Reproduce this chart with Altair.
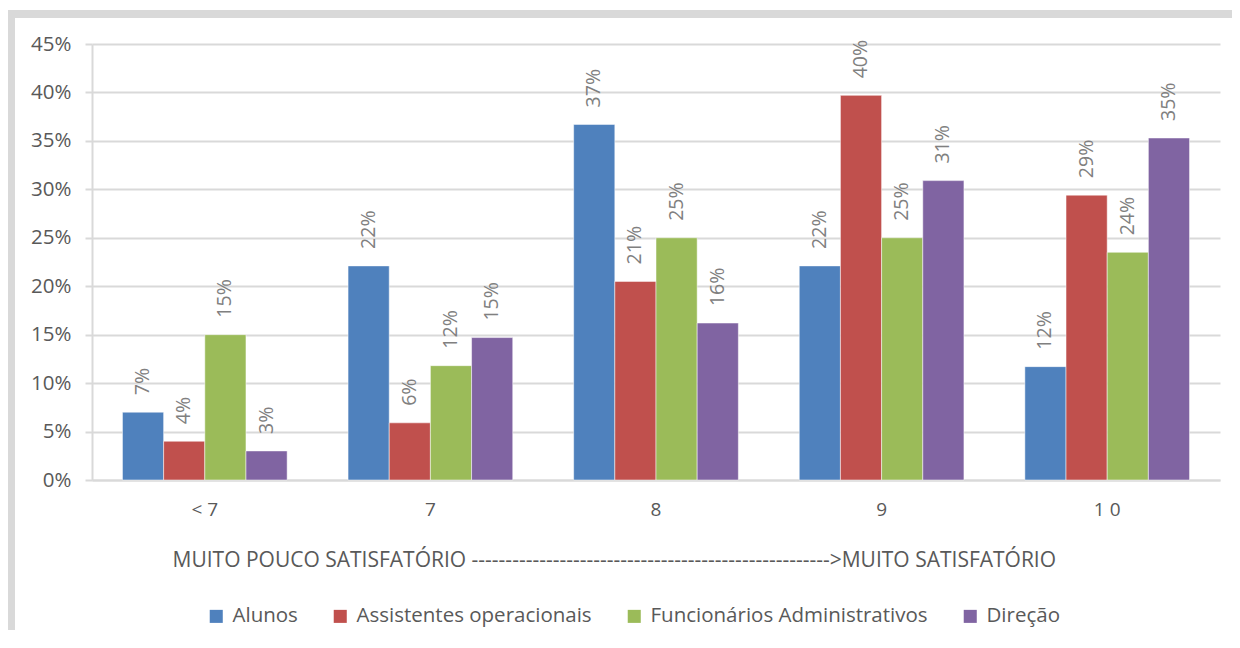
import altair as alt
import pandas as pd

categories = ["< 7", "7", "8", "9", "1 0"]
series = ["Alunos", "Assistentes operacionais", "Funcionários Administrativos", "Direção"]
colors = ["#4F81BD", "#C0504D", "#9BBB59", "#8064A2"]

alunos = [0.070, 0.221, 0.367, 0.221, 0.117]
assistentes = [0.040, 0.059, 0.205, 0.397, 0.294]
funcionarios = [0.150, 0.118, 0.250, 0.250, 0.235]
direcao = [0.030, 0.147, 0.162, 0.309, 0.353]

rows = []
for s, vals in zip(series, [alunos, assistentes, funcionarios, direcao]):
    for c, v in zip(categories, vals):
        rows.append({"cat": c, "serie": s, "valor": v})
df = pd.DataFrame(rows)

axis_title = ("MUITO POUCO SATISFATÓRIO " + "-" * 53 + ">MUITO SATISFATÓRIO")

FONT = "Open Sans"
TXT = "#595959"
GRID = "#d9d9d9"
W, H = 1128, 436

base = alt.Chart(df).encode(
    x=alt.X("cat:N", sort=categories, title=axis_title,
            scale=alt.Scale(paddingInner=0.27, paddingOuter=0.135),
            axis=alt.Axis(labelAngle=0, labelFont=FONT, labelFontSize=19, labelColor=TXT,
                          labelPadding=20, ticks=False, domainColor=GRID, domainWidth=2,
                          titleFont=FONT, titleFontSize=21, titleFontWeight="normal",
                          titleColor=TXT, titlePadding=30, titleX=80, titleAlign="left")),
    xOffset=alt.XOffset("serie:N", sort=series, scale=alt.Scale(paddingInner=0, paddingOuter=0)),
    y=alt.Y("valor:Q", title=None,
            scale=alt.Scale(domain=[0, 0.45]),
            axis=alt.Axis(format=".0%", values=[i * 0.05 for i in range(10)],
                          labelFont=FONT, labelFontSize=20.5, labelColor=TXT,
                          labelPadding=14, tickSize=7, tickColor=GRID, tickWidth=2,
                          gridColor=GRID, gridWidth=2, domainColor=GRID, domainWidth=2)),
)

bars = base.mark_bar(stroke="white", strokeWidth=0.5).encode(
    color=alt.Color("serie:N", sort=series,
                    scale=alt.Scale(domain=series, range=colors),
                    legend=alt.Legend(title=None, orient="none", direction="horizontal",
                                      legendX=114, legendY=562,
                                      labelFont=FONT, labelFontSize=20.5, labelColor=TXT,
                                      labelLimit=0,
                                      symbolType="square", symbolSize=170, symbolStrokeWidth=0,
                                      labelOffset=6, columnPadding=32, padding=0))
)

labels = base.mark_text(angle=270, align="left", baseline="middle", dx=17,
                        font=FONT, fontSize=19.5, color="#808080").encode(
    text=alt.Text("valor:Q", format=".0%")
)

frame_src = alt.Chart(alt.Data(values=[{}]))
frame_top = frame_src.mark_rule(color=GRID, strokeWidth=8).encode(
    x=alt.value(-85), x2=alt.value(1140), y=alt.value(-30)
)
frame_left = frame_src.mark_rule(color=GRID, strokeWidth=8).encode(
    x=alt.value(-81), y=alt.value(-34), y2=alt.value(586)
)

chart = alt.layer(frame_top, frame_left, bars, labels).properties(
    width=W, height=H,
    autosize=alt.AutoSizeParams(type="none"),
    padding={"left": 84, "top": 36, "right": 12, "bottom": 150},
    background="white",
).configure_view(stroke=None)

chart.save("out.html", embed_options={"renderer": "svg", "actions": False})
